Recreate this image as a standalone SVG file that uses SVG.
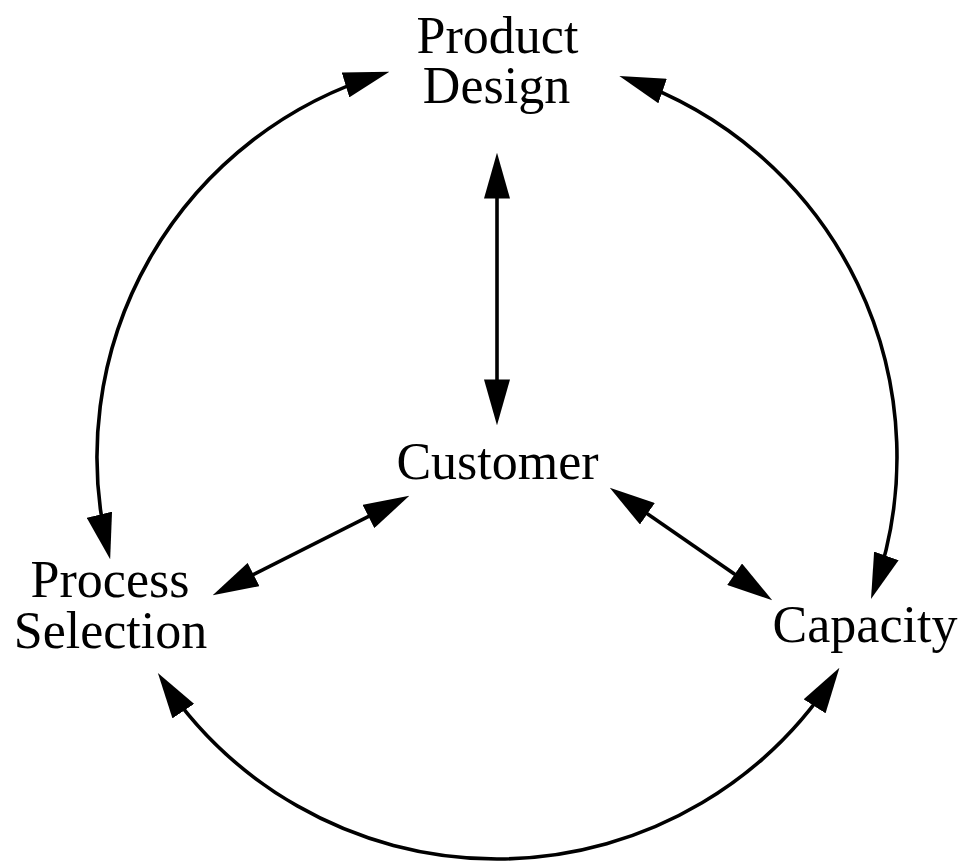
<svg xmlns="http://www.w3.org/2000/svg" width="964" height="862" viewBox="0 0 964 862">
  <style>
    .lbl { font-family: "Liberation Serif", "Times New Roman", serif; font-size: 52px; fill: #000; text-anchor: middle; }
    .conn { fill: none; stroke: #000; stroke-width: 3.6; marker-start: url(#ah); marker-end: url(#ah); }
  </style>
  <defs>
    <marker id="ah" markerUnits="userSpaceOnUse" markerWidth="46" markerHeight="26" refX="36" refY="12.5" orient="auto-start-reverse" viewBox="0 0 44 25">
      <path d="M0,0 L44,12.5 L0,25 z" fill="#000"/>
    </marker>
  </defs>
  <rect width="964" height="862" fill="#fff"/>
  <g id="connectors">
    <path class="conn" d="M381.4,74.1 A400 400 0 0 0 108.2,551.1"/>
    <path class="conn" d="M627.2,78.8 A400 400 0 0 1 873.8,591.2"/>
    <path class="conn" d="M162.5,680 A402 402 0 0 0 834.9,674.8"/>
    <path class="conn" d="M497,161 L497,417"/>
    <path class="conn" d="M220.1,591.4 L401.9,499.6"/>
    <path class="conn" d="M616.6,492.5 L765.4,595.5"/>
  </g>
  <g id="product-design">
    <text class="lbl"><tspan x="497.5" y="53">Product</tspan><tspan x="496.5" y="103">Design</tspan></text>
  </g>
  <g id="customer">
    <text class="lbl" x="497.5" y="479">Customer</text>
  </g>
  <g id="process-selection">
    <text class="lbl"><tspan x="110" y="597">Process</tspan><tspan x="110.5" y="648">Selection</tspan></text>
  </g>
  <g id="capacity">
    <text class="lbl" x="865" y="642">Capacity</text>
  </g>
</svg>
